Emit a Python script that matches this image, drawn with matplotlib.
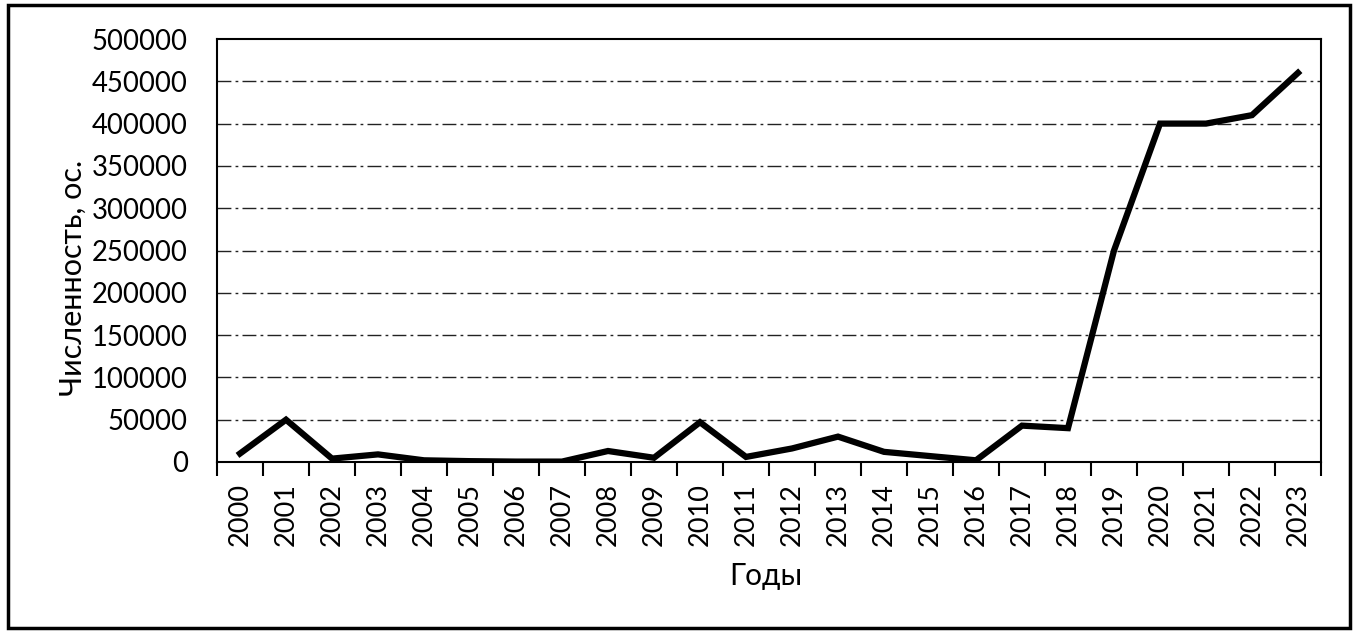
import matplotlib
matplotlib.use("Agg")
import matplotlib.pyplot as plt
from matplotlib.patches import Rectangle
import numpy as np

years = [str(y) for y in range(2000, 2024)]
values = [10000, 50000, 4000, 9000, 2000, 1000, 500, 500, 13000, 5000,
          47000, 6000, 16000, 30000, 12000, 7000, 2000, 43000, 40000,
          250000, 400000, 400000, 410000, 460000]
yticks = [0, 50000, 100000, 150000, 200000, 250000, 300000, 350000, 400000, 450000, 500000]

plt.rcParams['font.family'] = ['Lato', 'DejaVu Sans']

fig = plt.figure(figsize=(13.58, 6.35), dpi=100)
ax = fig.add_axes([217/1358, 1-462/635, (1321-217)/1358, (462-39)/635])

x = np.arange(len(years))
ax.plot(x, values, color='black', lw=4.5, solid_joinstyle='miter', zorder=3)

ax.set_xlim(-0.5, len(years)-0.5)
ax.set_ylim(0, 500000)
ax.set_yticks(yticks)
ax.set_yticklabels([str(v) for v in yticks], fontsize=19.8)
ax.tick_params(axis='y', length=0, pad=21)

ax.set_xticks(x)
ax.set_xticklabels(years, rotation=90, fontsize=19.5)
ax.tick_params(axis='x', which='major', length=0, pad=15)
ax.set_xticks(np.arange(-0.5, len(years)), minor=True)
ax.tick_params(axis='x', which='minor', length=10, width=1.5, color='black')

for v in yticks[1:-1]:
    ax.axhline(v, color='#222222', lw=1.0, ls=(0, (10, 3, 2, 3)), zorder=1)

for s in ax.spines.values():
    s.set_linewidth(1.5)
    s.set_color('black')

ax.set_ylabel('Численность, ос.', fontsize=22)
ax.yaxis.set_label_coords((73-217)/(1321-217), (462-278)/(462-39))
ax.set_xlabel('Годы', fontsize=21.5)
ax.xaxis.set_label_coords((766-217)/(1321-217), -(576-462)/(462-39))
ax.xaxis.label.set_va('center')
ax.yaxis.label.set_va('center')

fig.patches.append(Rectangle((8/1358, 1-628/635), (1350-8)/1358, (628-5)/635,
                             transform=fig.transFigure, fill=False,
                             edgecolor='black', lw=2.5))

fig.savefig('out.png', dpi=100, facecolor='white')
